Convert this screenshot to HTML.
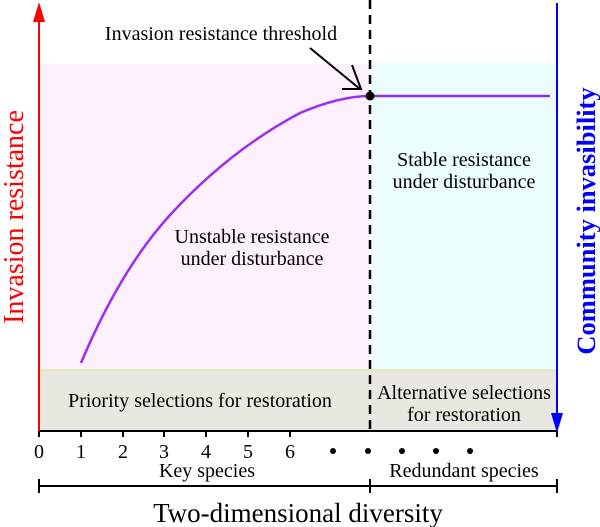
<!DOCTYPE html>
<html><head><style>body{margin:0;background:#fff}svg{display:block}</style></head><body>
<svg width="600" height="527" viewBox="0 0 600 527" xmlns="http://www.w3.org/2000/svg" font-family="Liberation Serif, serif">
<rect x="40" y="64" width="330" height="306" fill="#fdf0fd"/>
<rect x="371" y="63" width="186" height="307" fill="#ebfdfd"/>
<rect x="40" y="370" width="517" height="61" fill="#e9e7e0"/>
<line x1="40" y1="370" x2="557" y2="370" stroke="#dde8a8" stroke-width="1.5"/>
<line x1="39" y1="431" x2="557" y2="431" stroke="#000" stroke-width="2"/>
<line x1="39" y1="18" x2="39" y2="431" stroke="#f00" stroke-width="2"/>
<polygon points="39,2 33,22 45,22" fill="#f00"/>
<line x1="557" y1="3" x2="557" y2="415" stroke="#00f" stroke-width="2"/>
<polygon points="557,433 551,413 563,413" fill="#00f"/>
<line x1="370" y1="0" x2="370" y2="431" stroke="#000" stroke-width="2.5" stroke-dasharray="9,6"/>
<path d="M81,363 Q120,270 170,215 Q230,150 300,113 Q340,96 370,96 L550,96" fill="none" stroke="#9b2df0" stroke-width="2.5"/>
<circle cx="370" cy="96" r="4.5" fill="#000"/>
<line x1="310" y1="48" x2="360" y2="89" stroke="#000" stroke-width="2"/>
<polyline points="342,89 361,89 352,65" fill="none" stroke="#000" stroke-width="2"/>
<text x="221" y="40" font-size="20" text-anchor="middle">Invasion resistance threshold</text>
<text x="252" y="243" font-size="20" text-anchor="middle">Unstable resistance</text>
<text x="252" y="265" font-size="20" text-anchor="middle">under disturbance</text>
<text x="464" y="166" font-size="20" text-anchor="middle">Stable resistance</text>
<text x="464" y="188" font-size="20" text-anchor="middle">under disturbance</text>
<text x="200" y="407" font-size="20" text-anchor="middle">Priority selections for restoration</text>
<text x="464" y="399" font-size="20" text-anchor="middle">Alternative selections</text>
<text x="464" y="421" font-size="20" text-anchor="middle">for restoration</text>
<g stroke="#000" stroke-width="2">
<line x1="39" y1="431" x2="39" y2="437"/><line x1="81" y1="431" x2="81" y2="437"/><line x1="123" y1="431" x2="123" y2="437"/><line x1="164" y1="431" x2="164" y2="437"/><line x1="206" y1="431" x2="206" y2="437"/><line x1="248" y1="431" x2="248" y2="437"/><line x1="290" y1="431" x2="290" y2="437"/><line x1="557" y1="431" x2="557" y2="437"/>
<line x1="39" y1="486" x2="557" y2="486"/>
<line x1="39" y1="479" x2="39" y2="493"/><line x1="370" y1="479" x2="370" y2="493"/><line x1="557" y1="479" x2="557" y2="493"/>
</g>
<g font-size="20" text-anchor="middle">
<text x="39" y="458">0</text><text x="81" y="458">1</text><text x="123" y="458">2</text><text x="164" y="458">3</text><text x="206" y="458">4</text><text x="248" y="458">5</text><text x="290" y="458">6</text>
</g>
<g fill="#000"><circle cx="333" cy="451" r="3"/><circle cx="368" cy="451" r="3"/><circle cx="402" cy="451" r="3"/><circle cx="436" cy="451" r="3"/><circle cx="470" cy="451" r="3"/></g>
<text x="207" y="477" font-size="20" text-anchor="middle">Key species</text>
<text x="464" y="477" font-size="20" text-anchor="middle">Redundant species</text>
<text x="298" y="522" font-size="27" text-anchor="middle">Two-dimensional diversity</text>
<text transform="translate(23,217) rotate(-90)" font-size="28" fill="#f00" text-anchor="middle">Invasion resistance</text>
<text transform="translate(595,221) rotate(-90)" font-size="26.5" font-weight="bold" fill="#00f" text-anchor="middle">Community invasibility</text>
</svg>
</body></html>
